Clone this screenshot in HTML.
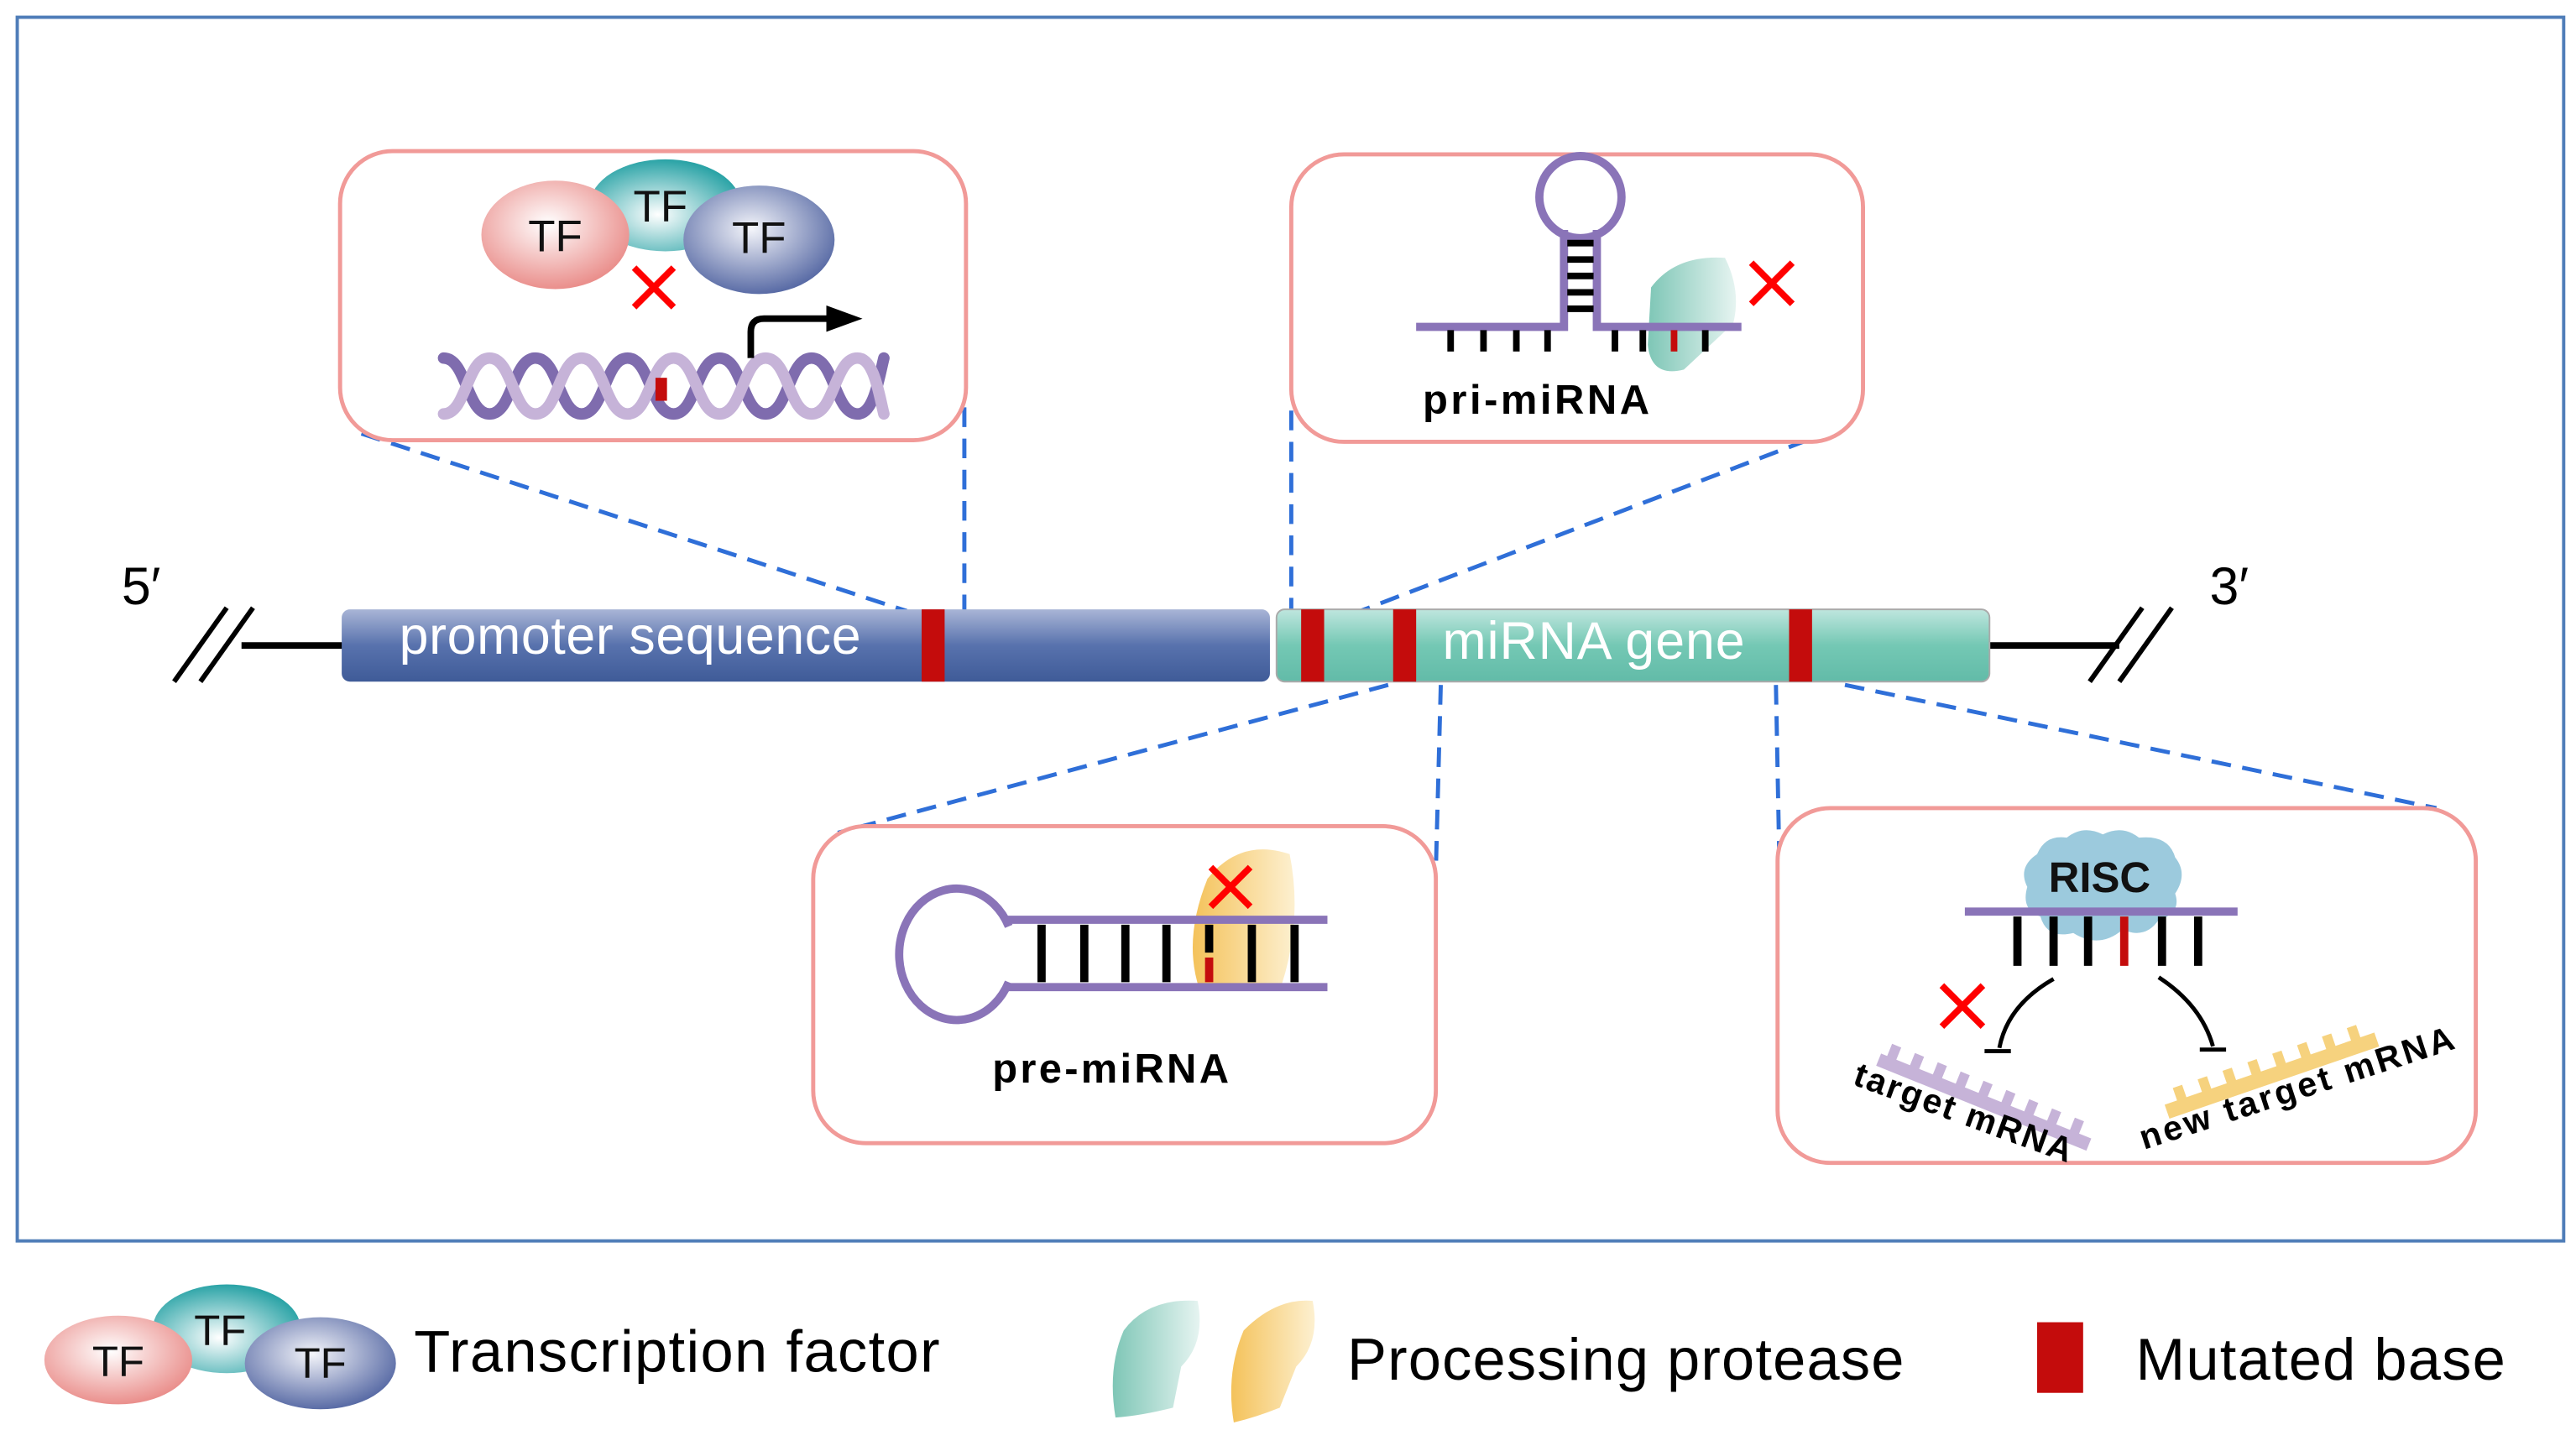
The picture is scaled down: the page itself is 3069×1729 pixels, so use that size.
<!DOCTYPE html>
<html><head><meta charset="utf-8"><style>html,body{margin:0;padding:0;background:#fff}svg{display:block}</style></head><body>
<svg width="3069" height="1729" viewBox="0 0 1568 883.4" preserveAspectRatio="none" xmlns="http://www.w3.org/2000/svg" font-family="Liberation Sans, sans-serif">
<defs>
<radialGradient id="gp" cx="45%" cy="40%" r="60%"><stop offset="0" stop-color="#fff"/><stop offset="1" stop-color="#ea8f8c"/></radialGradient>
<radialGradient id="gt" cx="45%" cy="60%" r="60%"><stop offset="0" stop-color="#fff"/><stop offset="1" stop-color="#2aa3a6"/></radialGradient>
<radialGradient id="gb" cx="45%" cy="40%" r="60%"><stop offset="0" stop-color="#f4f5fa"/><stop offset="1" stop-color="#5a6ca6"/></radialGradient>
<linearGradient id="bp" x1="0" y1="0" x2="0" y2="1"><stop offset="0" stop-color="#a9b5d6"/><stop offset="0.5" stop-color="#5872ad"/><stop offset="1" stop-color="#3f5b98"/></linearGradient>
<linearGradient id="bt" x1="0" y1="0" x2="0" y2="1"><stop offset="0" stop-color="#bfe6de"/><stop offset="0.5" stop-color="#74c8b4"/><stop offset="1" stop-color="#62bba8"/></linearGradient>
<linearGradient id="gg" x1="0" y1="0" x2="1" y2="0"><stop offset="0" stop-color="#7ec6b6"/><stop offset="1" stop-color="#e6f4f1"/></linearGradient>
<linearGradient id="gy" x1="0" y1="0" x2="1" y2="0"><stop offset="0" stop-color="#f4c25a"/><stop offset="1" stop-color="#fdf0d0"/></linearGradient>
</defs>
<rect x="10.5" y="10.5" width="1550" height="745" fill="none" stroke="#4f7db8" stroke-width="2"/>
<g stroke="#2f6fd8" stroke-width="2.5" stroke-dasharray="12,7" fill="none">
<line x1="220" y1="264" x2="552" y2="372"/><line x1="587" y1="248" x2="587" y2="372"/>
<line x1="786" y1="250" x2="786" y2="372"/><line x1="1100" y1="268" x2="828" y2="372"/>
<line x1="845" y1="417" x2="510" y2="507"/><line x1="877" y1="417" x2="874" y2="530"/>
<line x1="1081" y1="417" x2="1083" y2="520"/><line x1="1123" y1="417" x2="1483" y2="492"/>
</g>
<g fill="#fff" stroke="#f19a98" stroke-width="2.5">
<rect x="207" y="92" width="381" height="176" rx="32"/>
<rect x="786" y="94" width="348" height="175" rx="32"/>
<rect x="495" y="503" width="379" height="193" rx="32"/>
<rect x="1082" y="492" width="425" height="216" rx="32"/>
</g>
<line x1="147" y1="393" x2="210" y2="393" stroke="#000" stroke-width="4"/>
<line x1="1210" y1="393" x2="1290" y2="393" stroke="#000" stroke-width="4"/>
<g stroke="#000" stroke-width="3"><line x1="106" y1="415" x2="138" y2="370"/><line x1="122" y1="415" x2="154" y2="370"/><line x1="1272" y1="415" x2="1304" y2="370"/><line x1="1290" y1="415" x2="1322" y2="370"/></g>
<text x="74" y="368" font-size="32">5′</text><text x="1345" y="368" font-size="32">3′</text>
<rect x="208" y="371" width="565" height="44" rx="5" fill="url(#bp)"/>
<rect x="777" y="371" width="434" height="44" rx="5" fill="url(#bt)" stroke="#aaa"/>
<g fill="#c40c0c"><rect x="561" y="371" width="14" height="44"/><rect x="792" y="371" width="14" height="44"/><rect x="848" y="371" width="14" height="44"/><rect x="1089" y="371" width="14" height="44"/></g>
<text x="243" y="398" font-size="32" fill="#fff" textLength="281">promoter sequence</text>
<text x="878" y="401" font-size="32" fill="#fff" textLength="184">miRNA gene</text>
<ellipse cx="405" cy="125" rx="46" ry="28" fill="url(#gt)"/>
<ellipse cx="338" cy="143" rx="45" ry="33" fill="url(#gp)"/>
<ellipse cx="462" cy="146" rx="46" ry="33" fill="url(#gb)"/>
<g font-size="27" text-anchor="middle" fill="#111"><text x="338" y="153">TF</text><text x="402" y="135">TF</text><text x="462" y="154">TF</text></g>
<g stroke="#f00" stroke-width="4"><line x1="386" y1="163" x2="410" y2="187"/><line x1="410" y1="163" x2="386" y2="187"/></g>
<path d="M270 218 C284 218 284 252 298 252 C312 252 312 218 326 218 C340 218 340 252 354 252 C368 252 368 218 382 218 C396 218 396 252 410 252 C424 252 424 218 438 218 C452 218 452 252 466 252 C480 252 480 218 494 218 C508 218 508 252 522 252 C532 252 535 230 538 218" fill="none" stroke="#7f6cae" stroke-width="7" stroke-linecap="round"/>
<path d="M270 252 C284 252 284 218 298 218 C312 218 312 252 326 252 C340 252 340 218 354 218 C368 218 368 252 382 252 C396 252 396 218 410 218 C424 218 424 252 438 252 C452 252 452 218 466 218 C480 218 480 252 494 252 C508 252 508 218 522 218 C532 218 535 240 538 252" fill="none" stroke="#c6b3d8" stroke-width="7" stroke-linecap="round"/>
<rect x="399" y="230" width="7" height="14" fill="#c40c0c"/>
<path d="M457 218 V202 q0 -8 8 -8 H505" fill="none" stroke="#000" stroke-width="4"/>
<path d="M503 186 L525 194 L503 202 Z" fill="#000"/>
<path d="M1005 175 q15 -20 45 -18 q10 20 5 40 l-30 28 q-20 5 -22 -15 z" fill="url(#gg)"/>
<circle cx="962" cy="120" r="25" fill="none" stroke="#8a74b8" stroke-width="5"/>
<g stroke="#8a74b8" stroke-width="5" fill="none"><path d="M862 199 H952 V140"/><path d="M972 140 V199 H1060"/></g>
<g stroke="#000" stroke-width="4"><line x1="954" y1="148" x2="970" y2="148"/><line x1="954" y1="158" x2="970" y2="158"/><line x1="954" y1="168" x2="970" y2="168"/><line x1="954" y1="178" x2="970" y2="178"/><line x1="954" y1="188" x2="970" y2="188"/>
<line x1="883" y1="201" x2="883" y2="214"/><line x1="903" y1="201" x2="903" y2="214"/><line x1="923" y1="201" x2="923" y2="214"/><line x1="942" y1="201" x2="942" y2="214"/><line x1="983" y1="201" x2="983" y2="214"/><line x1="1000" y1="201" x2="1000" y2="214"/><line x1="1038" y1="201" x2="1038" y2="214"/></g>
<line x1="1019" y1="201" x2="1019" y2="214" stroke="#c40c0c" stroke-width="4"/>
<g stroke="#f00" stroke-width="4"><line x1="1066" y1="160" x2="1091" y2="185"/><line x1="1091" y1="160" x2="1066" y2="185"/></g>
<text x="935" y="252" font-size="25" font-weight="bold" text-anchor="middle" textLength="138">pri-miRNA</text>
<path d="M735 535 q20 -25 50 -15 q8 40 -5 80 l-50 2 q-10 -30 5 -67z" fill="url(#gy)"/>
<path d="M614 564 A35 40 0 1 0 614 598" fill="none" stroke="#8a74b8" stroke-width="5"/>
<g stroke="#8a74b8" stroke-width="5" fill="none"><path d="M612 560 H808"/><path d="M612 601 H808"/></g>
<g stroke="#000" stroke-width="5"><line x1="634" y1="563" x2="634" y2="598"/><line x1="660" y1="563" x2="660" y2="598"/><line x1="685" y1="563" x2="685" y2="598"/><line x1="710" y1="563" x2="710" y2="598"/><line x1="736" y1="563" x2="736" y2="580"/><line x1="762" y1="563" x2="762" y2="598"/><line x1="788" y1="563" x2="788" y2="598"/></g>
<line x1="736" y1="583" x2="736" y2="598" stroke="#c40c0c" stroke-width="5"/>
<g stroke="#f00" stroke-width="4"><line x1="737" y1="528" x2="761" y2="552"/><line x1="761" y1="528" x2="737" y2="552"/></g>
<text x="676" y="659" font-size="25" font-weight="bold" text-anchor="middle" textLength="144">pre-miRNA</text>
<path d="M1240 520 q5 -12 18 -10 q10 -8 22 -2 q12 -6 22 2 q18 -2 22 12 q8 10 0 22 q4 12 -10 16 q-8 12 -22 6 q-14 12 -30 2 q-16 4 -20 -10 q-12 -4 -8 -18 q-6 -12 6 -20z" fill="#9ccadd"/>
<text x="1278" y="543" font-size="26" font-weight="bold" text-anchor="middle" fill="#111">RISC</text>
<line x1="1196" y1="555" x2="1362" y2="555" stroke="#8a74b8" stroke-width="5"/>
<g stroke="#000" stroke-width="5"><line x1="1228" y1="558" x2="1228" y2="588"/><line x1="1250" y1="558" x2="1250" y2="588"/><line x1="1271" y1="558" x2="1271" y2="588"/><line x1="1316" y1="558" x2="1316" y2="588"/><line x1="1338" y1="558" x2="1338" y2="588"/></g>
<line x1="1293" y1="558" x2="1293" y2="588" stroke="#c40c0c" stroke-width="5"/>
<g stroke="#000" stroke-width="2.5" fill="none"><path d="M1250 596 Q1222 612 1217 638"/><line x1="1208" y1="640" x2="1224" y2="640"/><path d="M1314 595 Q1340 612 1347 637"/><line x1="1339" y1="639" x2="1355" y2="639"/></g>
<g stroke="#f00" stroke-width="4"><line x1="1182" y1="600" x2="1207" y2="625"/><line x1="1207" y1="600" x2="1182" y2="625"/></g>
<g transform="translate(1148,634) rotate(22)"><rect x="0" y="8" width="138" height="8" fill="#c6b3d8"/><g fill="#c6b3d8"><rect x="4" y="0" width="6" height="9"/><rect x="19" y="0" width="6" height="9"/><rect x="34" y="0" width="6" height="9"/><rect x="49" y="0" width="6" height="9"/><rect x="64" y="0" width="6" height="9"/><rect x="79" y="0" width="6" height="9"/><rect x="94" y="0" width="6" height="9"/><rect x="109" y="0" width="6" height="9"/><rect x="124" y="0" width="6" height="9"/></g></g>
<g transform="translate(1315,665) rotate(-19)"><rect x="0" y="8" width="135" height="9" fill="#f6d27e"/><g fill="#f6d27e"><rect x="8" y="0" width="6" height="9"/><rect x="24" y="0" width="6" height="9"/><rect x="40" y="0" width="6" height="9"/><rect x="56" y="0" width="6" height="9"/><rect x="72" y="0" width="6" height="9"/><rect x="88" y="0" width="6" height="9"/><rect x="104" y="0" width="6" height="9"/><rect x="120" y="0" width="6" height="9"/></g></g>
<text transform="translate(1127,660) rotate(20)" font-size="21" font-weight="bold" textLength="140">target mRNA</text>
<text transform="translate(1305,700) rotate(-18)" font-size="21" font-weight="bold" textLength="200">new  target mRNA</text>
<ellipse cx="138" cy="809" rx="45" ry="27" fill="url(#gt)"/>
<ellipse cx="72" cy="828" rx="45" ry="27" fill="url(#gp)"/>
<ellipse cx="195" cy="830" rx="46" ry="28" fill="url(#gb)"/>
<g font-size="26" text-anchor="middle" fill="#111"><text x="72" y="838">TF</text><text x="134" y="819">TF</text><text x="195" y="839">TF</text></g>
<text x="252" y="835" font-size="36" textLength="320">Transcription factor</text>
<path d="M684 810 q15 -20 45 -18 q5 25 -10 40 l-5 25 q-20 5 -35 6 q-5 -30 5 -53z" fill="url(#gg)"/>
<path d="M757 810 q20 -20 42 -18 q5 25 -10 40 l-10 25 q-15 6 -28 9 q-5 -30 6 -56z" fill="url(#gy)"/>
<text x="820" y="840" font-size="36" textLength="339">Processing protease</text>
<rect x="1240" y="805" width="28" height="43" fill="#c40c0c"/>
<text x="1300" y="840" font-size="36" textLength="225">Mutated base</text>
</svg>
</body></html>
